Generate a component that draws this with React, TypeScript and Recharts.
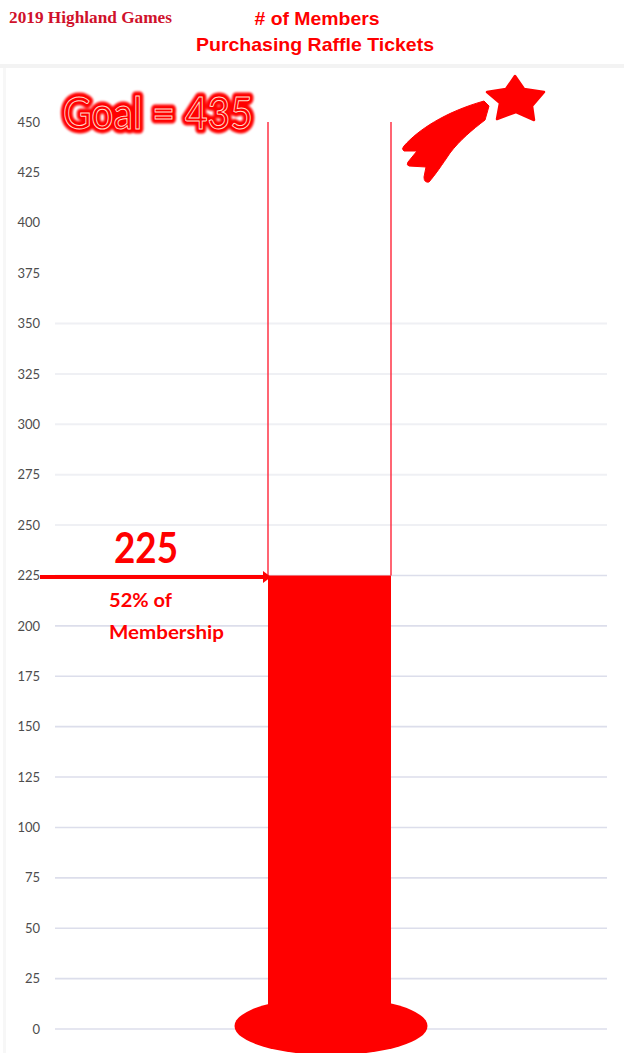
import { BarChart, Bar, XAxis, YAxis, CartesianGrid } from "recharts";

const CATEGORIES = ["Members"];
const PURCHASED = [225];
const REMAINING = [225];
const Y_TICKS = [0, 25, 50, 75, 100, 125, 150, 175, 200, 225, 250, 275, 300, 325, 350, 375, 400, 425, 450];
const STRONG_GRID = [0, 25, 50, 75, 100, 125, 150, 175, 200, 225];
const FAINT_GRID = [250, 275, 300, 325, 350];

const RED = "#ff0000";

const data = CATEGORIES.map((name, i) => ({
  name,
  purchased: PURCHASED[i],
  remaining: REMAINING[i],
}));

// filled tube plus the round foot of the thermometer
function FilledTube({ x, y, width, height }: any) {
  return (
    <g>
      <rect x={x} y={y} width={width} height={height} fill={RED} />
      <ellipse cx={x + width / 2 + 1.5} cy={y + height - 3} rx={96.5} ry={29} fill={RED} />
    </g>
  );
}

// empty part of the tube: two walls, open at the top
function EmptyTube({ x, y, width, height }: any) {
  return (
    <g stroke="#ff2438" strokeWidth={1.4}>
      <line x1={x} y1={y} x2={x} y2={y + height} />
      <line x1={x + width} y1={y} x2={x + width} y2={y + height} />
    </g>
  );
}

const sans = "'Liberation Sans', Arial, sans-serif";
const calibriLike = "Lato, 'Open Sans', sans-serif";

function Decorations() {
  return (
    <svg width={624} height={1053} style={{ position: "absolute", left: 0, top: 0 }}>
      <defs>
        <filter id="glow" x="-10%" y="-30%" width="120%" height="160%">
          <feGaussianBlur stdDeviation="0.8" />
        </filter>
      </defs>
      <text x={9} y={23} fill="#d0112b" fontFamily="'Liberation Serif', serif" fontWeight={700} fontSize={17} textLength={163} lengthAdjust="spacingAndGlyphs">
        2019 Highland Games
      </text>
      <text x={317} y={25} textAnchor="middle" fill={RED} fontSize={18.5} fontWeight={700} fontFamily={sans} textLength={125} lengthAdjust="spacingAndGlyphs">
        # of Members
      </text>
      <text x={315} y={51} textAnchor="middle" fill={RED} fontSize={18.5} fontWeight={700} fontFamily={sans} textLength={238} lengthAdjust="spacingAndGlyphs">
        Purchasing Raffle Tickets
      </text>

      <text x={63} y={129} fill={RED} stroke={RED} strokeWidth={9} strokeLinejoin="round" fontFamily={calibriLike} fontSize={44} textLength={190} lengthAdjust="spacingAndGlyphs" filter="url(#glow)">
        Goal = 435
      </text>
      <text x={63} y={129} fill={RED} stroke="#ffd9c8" strokeWidth={1} fontFamily={calibriLike} fontSize={44} textLength={190} lengthAdjust="spacingAndGlyphs">
        Goal = 435
      </text>

      <path d="M515 76 L524 89 L544 92 L532 106 L534 120 L516 112 L497 119 L500 103 L487 92 L506 89 Z" fill={RED} stroke={RED} strokeWidth={2.5} strokeLinejoin="round" />
      <path d="M484 101 L489 106 L485 120 C472 130 460 140 450 153 C442 165 435 175 429 182 Q424 183 424 177 L426 167 L409 166 Q406 165 408 162 L417 151 L404 151 Q401 149 404 146 C418 130 445 112 484 101 Z" fill={RED} stroke={RED} strokeWidth={1} strokeLinejoin="round" />

      <text x={146} y={563} textAnchor="middle" fill={RED} fontFamily={calibriLike} fontWeight={700} fontSize={42} textLength={64} lengthAdjust="spacingAndGlyphs">
        225
      </text>
      <line x1={40} y1={577} x2={264} y2={577} stroke={RED} strokeWidth={4} />
      <polygon points="263,571 271,577 263,583" fill={RED} />
      <text x={109} y={607} fill={RED} fontFamily={calibriLike} fontWeight={700} fontSize={19} textLength={63} lengthAdjust="spacingAndGlyphs">
        52% of
      </text>
      <text x={109} y={639} fill={RED} fontFamily={calibriLike} fontWeight={700} fontSize={19} textLength={115} lengthAdjust="spacingAndGlyphs">
        Membership
      </text>
    </svg>
  );
}

export default function App() {
  return (
    <div style={{ position: "absolute", left: 0, top: 0, width: 624, height: 1053, background: "#fff", overflow: "hidden" }}>
      <div style={{ position: "absolute", left: 0, top: 64, width: 624, height: 4, background: "#f3f3f3" }} />
      <div style={{ position: "absolute", left: 3, top: 68, width: 3, height: 985, background: "#f7f7f7" }} />
      <BarChart
        width={624}
        height={1053}
        data={data}
        margin={{ top: 122, right: 17, bottom: 24, left: 0 }}
        barSize={123}
        style={{ position: "absolute", left: 0, top: 0 }}
      >
        <CartesianGrid vertical={false} stroke="#eff0f4" strokeWidth={2} horizontalValues={FAINT_GRID} />
        <CartesianGrid vertical={false} stroke="#dcdeeb" strokeWidth={1.6} horizontalValues={STRONG_GRID} />
        <XAxis dataKey="name" hide padding={{ left: 0, right: 3 }} />
        <YAxis
          width={55}
          domain={[0, 450]}
          ticks={Y_TICKS}
          interval={0}
          axisLine={false}
          tickLine={false}
          tickMargin={9}
          tick={{ fill: "#4d4d4d", fontSize: 13, fontFamily: calibriLike }}
        />
        <Bar dataKey="purchased" stackId="tube" shape={FilledTube} isAnimationActive={false} />
        <Bar dataKey="remaining" stackId="tube" shape={EmptyTube} isAnimationActive={false} />
      </BarChart>
      <Decorations />
    </div>
  );
}
